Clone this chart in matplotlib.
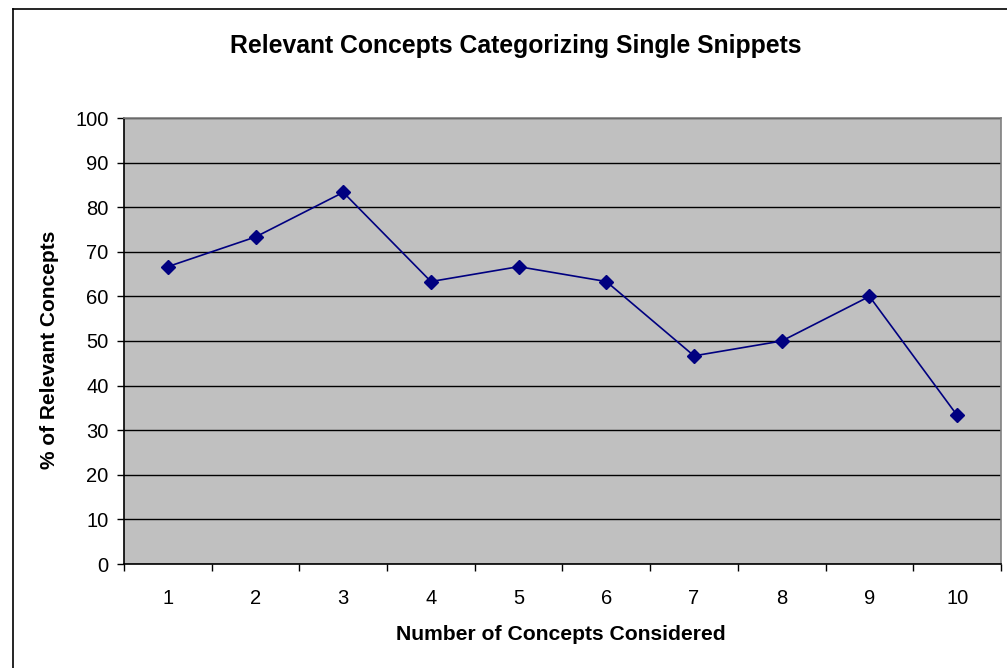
import matplotlib
matplotlib.use("Agg")
import matplotlib.pyplot as plt
from matplotlib.lines import Line2D

plt.rcParams['font.family'] = ['Liberation Sans', 'DejaVu Sans']

concepts = [1, 2, 3, 4, 5, 6, 7, 8, 9, 10]
relevant_pct = [66.67, 73.33, 83.33, 63.33, 66.67, 63.33, 46.67, 50.0, 60.0, 33.33]
y_ticks = [0, 10, 20, 30, 40, 50, 60, 70, 80, 90, 100]

fig = plt.figure(figsize=(10.07, 6.68), dpi=100)
fig.patch.set_facecolor('white')

# chart-area frame (left and top edges visible)
fig.add_artist(Line2D([12.5 / 1007, 12.5 / 1007], [0, 1 - 8.5 / 668],
                      transform=fig.transFigure, color='black', lw=1.2))
fig.add_artist(Line2D([12.5 / 1007, 1.0], [1 - 8.5 / 668, 1 - 8.5 / 668],
                      transform=fig.transFigure, color='black', lw=1.2))

ax = fig.add_axes([124 / 1007, 1 - 564 / 668, (1001 - 124) / 1007, (564 - 118) / 668])
ax.set_facecolor('#C0C0C0')

ax.plot(concepts, relevant_pct, color='#000080', lw=1.2, marker='D',
        markersize=7.5, markerfacecolor='#000080', markeredgecolor='#000080',
        zorder=3)

ax.set_xlim(0.5, 10.5)
ax.set_ylim(0, 100)
ax.set_yticks(y_ticks)
ax.set_yticklabels([str(v) for v in y_ticks])
ax.yaxis.grid(True, color='black', lw=1.0)
ax.set_axisbelow(True)

# category boundaries carry the tick marks, labels sit at category centres
ax.set_xticks([c - 0.5 for c in concepts] + [concepts[-1] + 0.5])
ax.set_xticklabels([])
ax.set_xticks(concepts, minor=True)
ax.set_xticklabels([str(c) for c in concepts], minor=True)
ax.tick_params(axis='x', which='minor', length=0, pad=18, labelsize=14.5)
ax.tick_params(axis='x', which='major', direction='out', length=5, width=1)
ax.tick_params(axis='y', direction='out', length=5, width=1, labelsize=14.5, pad=6)

for side in ('left', 'bottom'):
    ax.spines[side].set_color('black')
    ax.spines[side].set_linewidth(1.2)
for side in ('top', 'right'):
    ax.spines[side].set_color('#808080')
    ax.spines[side].set_linewidth(1.2)

fig.text(516 / 1007, 1 - 46 / 668, 'Relevant Concepts Categorizing Single Snippets',
         ha='center', va='center', fontsize=17.8, fontweight='bold')
fig.text(561 / 1007, 1 - 634 / 668, 'Number of Concepts Considered',
         ha='center', va='center', fontsize=15.2, fontweight='bold')
fig.text(50 / 1007, 1 - 350 / 668, '% of Relevant Concepts', rotation=90,
         ha='center', va='center', fontsize=15, fontweight='bold')

fig.savefig('out.png', dpi=100, facecolor='white')
